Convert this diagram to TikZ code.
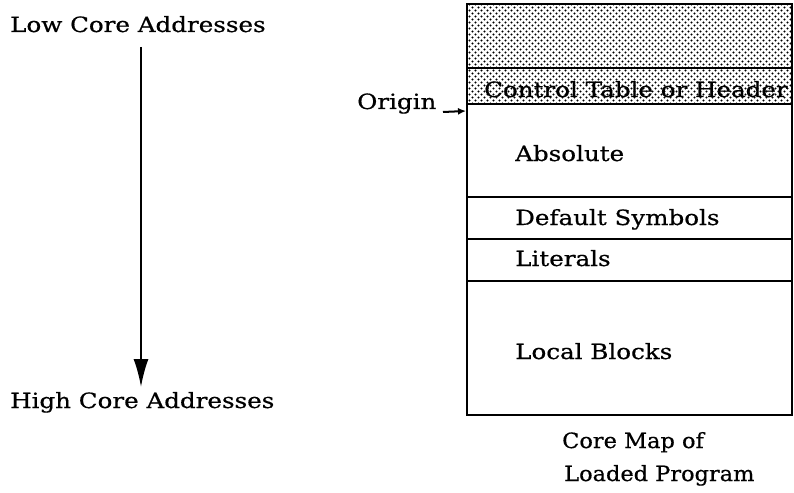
\documentclass[tikz,border=0pt]{standalone}
\usepackage{fontspec}
\setmainfont[FakeStretch=1.17,FakeBold=0.6]{DejaVu Serif}
\newfontfamily\narrowserif[FakeStretch=1.07,FakeBold=0.6]{DejaVu Serif}
\usetikzlibrary{patterns,arrows.meta}
\pgfdeclarepatternformonly{coarsedots}{\pgfqpoint{-1pt}{-1pt}}{\pgfqpoint{7pt}{7pt}}{\pgfqpoint{6pt}{6pt}}{%
  \pgfpathcircle{\pgfqpoint{1.5pt}{1.5pt}}{1.15pt}%
  \pgfpathcircle{\pgfqpoint{4.5pt}{4.5pt}}{1.15pt}%
  \pgfusepath{fill}}
\begin{document}
\begin{tikzpicture}[x=1pt,y=-1pt,
  lbl/.style={inner sep=0pt,anchor=base west,font=\fontsize{21}{24}\selectfont},
  rowline/.style={line width=1.6pt}]
\useasboundingbox (0,0) rectangle (794,492);
% labels on the left
\node[lbl] (low) at (10,32) {Low Core Addresses};
\node[lbl] (high) at (10,408) {High Core Addresses};
\coordinate (a1) at (141,47);
\coordinate (a2) at (141,387);
\draw[line width=2pt,-{Latex[length=28pt,width=15pt]}] (a1) -- (a2);
% core map
\fill[pattern=coarsedots,pattern color=black] (467,4) rectangle (792,104);
\draw[rowline] (467,4) rectangle (792,415);
\draw[rowline] (467,68) -- (792,68);
\draw[rowline] (467,104) -- (792,104);
\draw[rowline] (467,197) -- (792,197);
\draw[rowline] (467,239) -- (792,239);
\draw[rowline] (467,281) -- (792,281);
\node[lbl] (ctl) at (484,97) {Control Table or Header};
\node[lbl] (abs) at (515,161) {Absolute};
\node[lbl] (def) at (515,225) {Default Symbols};
\node[lbl] (lit) at (515,266) {Literals};
\node[lbl] (loc) at (515,359) {Local Blocks};
\node[lbl] (origin) at (357,109) {Origin};
\coordinate (o1) at (443,112);
\coordinate (o2) at (466,111);
\draw[line width=2pt,-{Latex[length=8pt,width=7pt]}] (o1) -- (o2);
\node[lbl,font=\fontsize{21}{24}\narrowserif] (cap1) at (562,448) {Core Map of};
\node[lbl,font=\fontsize{21}{24}\narrowserif] (cap2) at (564,481) {Loaded Program};
\end{tikzpicture}
\end{document}
